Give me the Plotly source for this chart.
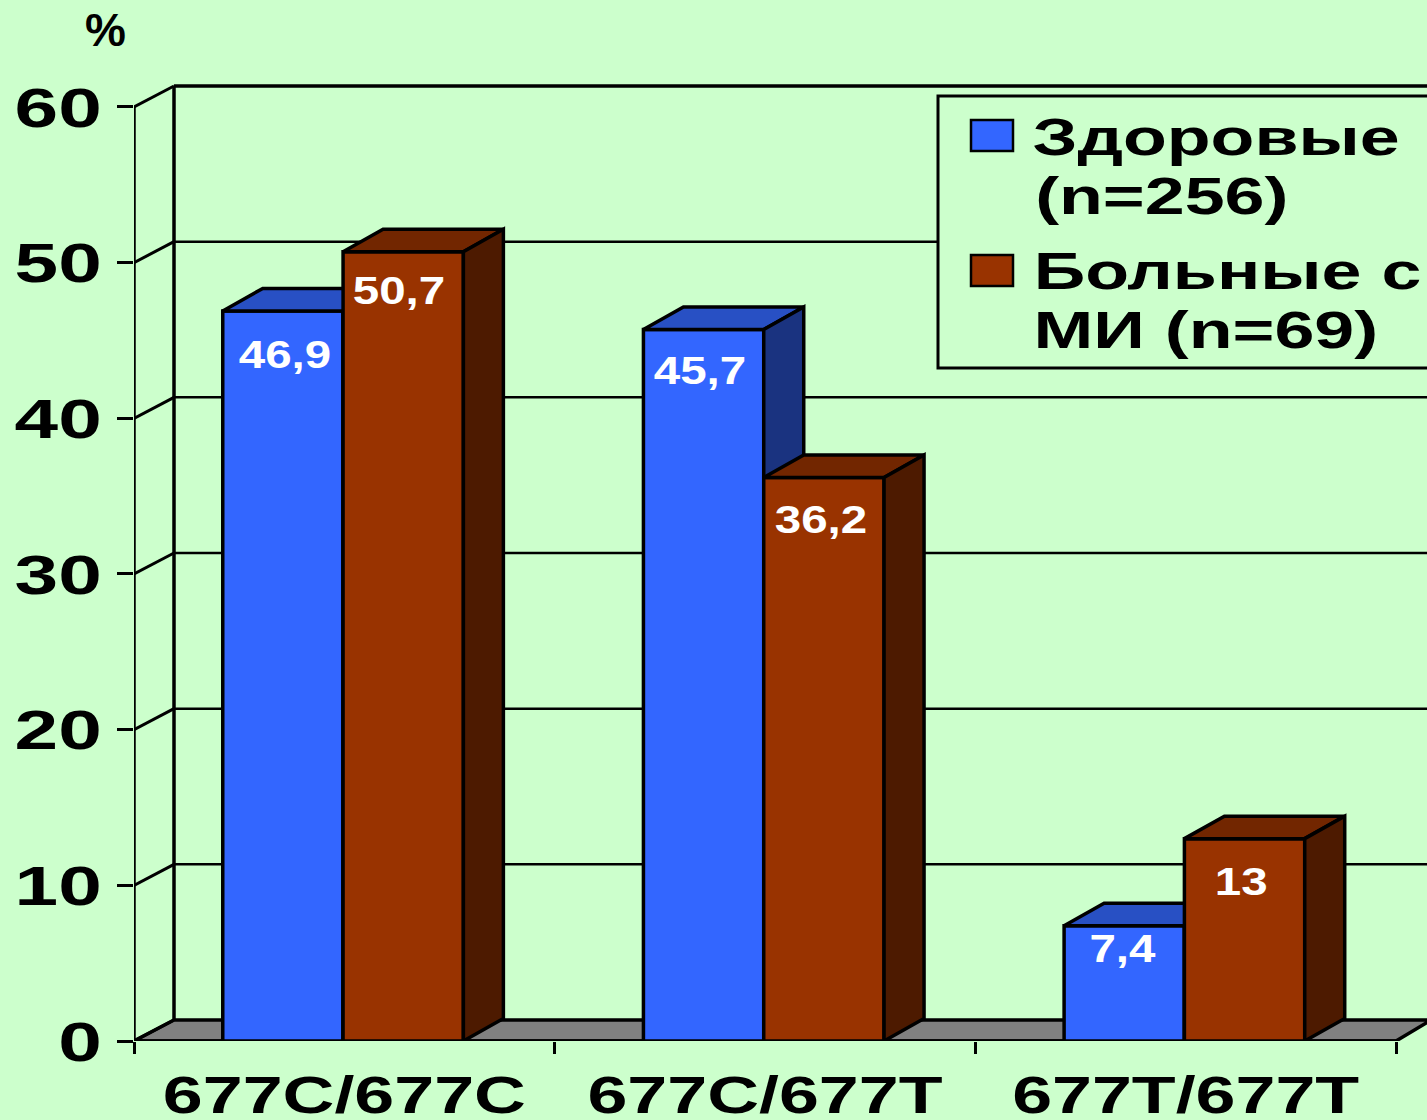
import plotly.graph_objects as go

# Genotype frequencies, percent of each group
genotypes = ["677C/677C", "677C/677T", "677T/677T"]
healthy = [46.9, 45.7, 7.4]
patients = [50.7, 36.2, 13]
y_ticks = [0, 10, 20, 30, 40, 50, 60]
legend_lines = ["Здоровые", "(n=256)", "Больные с", "МИ (n=69)"]

# Value-label nudges in pixels relative to the top centre of each column
healthy_label_shift = [(2, -44), (-4, -41), (-2, -23)]
patients_label_shift = [(-4, -39), (-3, -43), (-4, -43)]

W, H = 1427, 1120
LEFT, BOTTOM = 134, 79
PX_PER_CAT = 420.67
PX_PER_VAL = 15.567
X_RANGE = [-0.5, -0.5 + (W - LEFT) / PX_PER_CAT]
Y_RANGE = [0, (H - BOTTOM) / PX_PER_VAL]

# Oblique projection: how far the depth axis shifts things, in data units
WALL_DX, WALL_DY = 40 / PX_PER_CAT, 21 / PX_PER_VAL
BAR_DX, BAR_DY = 40 / PX_PER_CAT, 22.5 / PX_PER_VAL
BAR_W = 0.286
GROUP_SHIFT = -0.003

BG = "#CCFFCC"
BLUE, BLUE_TOP, BLUE_SIDE = "#3366FF", "#2850C4", "#1A3380"
RED, RED_TOP, RED_SIDE = "#993300", "#722600", "#4D1A00"
FONT = "Liberation Sans"


def polygons(faces):
    xs, ys = [], []
    for face in faces:
        xs += [p[0] for p in face] + [face[0][0], None]
        ys += [p[1] for p in face] + [face[0][1], None]
    return xs, ys


def add_poly(fig, faces, color, axes, lw=3.5):
    xs, ys = polygons(faces)
    fig.add_trace(go.Scatter(x=xs, y=ys, mode="lines", fill="toself", fillcolor=color,
                             line=dict(color="black", width=lw), hoverinfo="skip",
                             showlegend=False, cliponaxis=False, xaxis=axes[0], yaxis=axes[1]))


def add_lines(fig, segments, lw, axes=("x", "y")):
    xs, ys = [], []
    for a, b in segments:
        xs += [a[0], b[0], None]
        ys += [a[1], b[1], None]
    fig.add_trace(go.Scatter(x=xs, y=ys, mode="lines", line=dict(color="black", width=lw),
                             hoverinfo="skip", showlegend=False, cliponaxis=False,
                             xaxis=axes[0], yaxis=axes[1]))


def add_series(fig, values, left_offset, name, front, top, side, axes):
    fig.add_trace(go.Bar(x=list(range(len(values))), y=values, width=BAR_W, offset=left_offset,
                         name=name, marker=dict(color=front, line=dict(color="black", width=3.5)),
                         hoverinfo="skip", showlegend=False, xaxis=axes[0], yaxis=axes[1]))
    tops, sides = [], []
    for i, v in enumerate(values):
        x0, x1 = i + left_offset, i + left_offset + BAR_W
        tops.append([(x0, v), (x1, v), (x1 + BAR_DX, v + BAR_DY), (x0 + BAR_DX, v + BAR_DY)])
        sides.append([(x1, 0), (x1, v), (x1 + BAR_DX, v + BAR_DY), (x1 + BAR_DX, BAR_DY)])
    add_poly(fig, tops, top, axes)
    add_poly(fig, sides, side, axes)


fig = go.Figure()
x_min, x_max = X_RANGE[0], len(genotypes) - 0.5
wall_left = x_min + WALL_DX

# Floor of the box
add_poly(fig, [[(x_min, 0), (wall_left, WALL_DY), (X_RANGE[1] + 0.01, WALL_DY),
                (x_max, 0)]], "#808080", ("x", "y"))

# Back-wall grid, the diagonals on the side wall, and the front axes
top_val = y_ticks[-1]
add_lines(fig, [((wall_left, t + WALL_DY), (X_RANGE[1], t + WALL_DY)) for t in y_ticks[1:-1]], 2.5)
add_lines(fig, [((wall_left, top_val + WALL_DY), (X_RANGE[1], top_val + WALL_DY)),
                ((wall_left, WALL_DY), (wall_left, top_val + WALL_DY)),
                ((x_min, 0), (x_min, top_val)),
                ((x_min, 0), (x_max, 0))], 3.5)
add_lines(fig, [((x_min, t), (wall_left, t + WALL_DY)) for t in y_ticks], 3)

# Healthy group sits on the second axis pair, patients on the third, so that each
# patient column paints over the side face of its neighbour
add_series(fig, healthy, GROUP_SHIFT - BAR_W, "Здоровые (n=256)", BLUE, BLUE_TOP, BLUE_SIDE, ("x2", "y2"))
add_series(fig, patients, GROUP_SHIFT, "Больные с МИ (n=69)", RED, RED_TOP, RED_SIDE, ("x3", "y3"))


def px_x(px):
    return (px - LEFT) / (W - LEFT)


def px_y(px):
    return 1 - px / (H - BOTTOM)


annotations = []
for values, shifts, off in ((healthy, healthy_label_shift, GROUP_SHIFT - BAR_W / 2),
                            (patients, patients_label_shift, GROUP_SHIFT + BAR_W / 2)):
    for i, (v, (dx, dy)) in enumerate(zip(values, shifts)):
        annotations.append(dict(x=i + off, y=v, xref="x3", yref="y3", xshift=dx, yshift=dy,
                                text=str(v).replace(".", ","), showarrow=False,
                                xanchor="center", yanchor="middle",
                                font=dict(family=FONT, size=38, color="white", weight="bold")))

annotations.append(dict(x=px_x(105), y=px_y(30), xref="paper", yref="paper", text="%", showarrow=False,
                        xanchor="center", yanchor="middle",
                        font=dict(family=FONT, size=46, color="black", weight="bold")))

legend_pos = [(1216, 137), (1162, 196), (1227, 271), (1206, 330)]
for line, (cx, cy) in zip(legend_lines, legend_pos):
    annotations.append(dict(x=px_x(cx), y=px_y(cy), xref="paper", yref="paper", text=line, showarrow=False,
                            xanchor="center", yanchor="middle",
                            font=dict(family=FONT, size=52, color="black", weight="bold")))

shapes = [
    dict(type="rect", xref="paper", yref="paper", x0=px_x(938), x1=px_x(1440), y0=px_y(96), y1=px_y(368),
         fillcolor=BG, line=dict(color="black", width=3), layer="above"),
    dict(type="rect", xref="paper", yref="paper", x0=px_x(971), x1=px_x(1013), y0=px_y(120), y1=px_y(151),
         fillcolor=BLUE, line=dict(color="black", width=2.5), layer="above"),
    dict(type="rect", xref="paper", yref="paper", x0=px_x(971), x1=px_x(1013), y0=px_y(255), y1=px_y(286),
         fillcolor=RED, line=dict(color="black", width=2.5), layer="above"),
]

hidden = dict(range=X_RANGE, showgrid=False, zeroline=False, showticklabels=False, ticks="",
              showline=False, automargin=False)
hidden_y = dict(range=Y_RANGE, showgrid=False, zeroline=False, showticklabels=False, ticks="",
                showline=False, automargin=False)

fig.update_layout(
    width=W, height=H, autosize=False,
    margin=dict(l=LEFT, r=0, t=0, b=BOTTOM, pad=0),
    paper_bgcolor=BG, plot_bgcolor=BG,
    barmode="overlay",
    showlegend=False,
    hovermode=False,
    annotations=annotations,
    shapes=shapes,
    xaxis=dict(range=X_RANGE, showgrid=False, zeroline=False, showline=False, showticklabels=False,
               tickmode="array", tickvals=[-0.5, 0.5, 1.5, 2.5], ticks="outside", ticklen=12,
               tickwidth=3, tickcolor="black", automargin=False),
    yaxis=dict(range=Y_RANGE, showgrid=False, zeroline=False, showline=False,
               tickmode="array", tickvals=y_ticks, ticks="outside", ticklen=16, tickwidth=3,
               tickcolor="black", ticklabelstandoff=4, automargin=False,
               tickfont=dict(family=FONT, size=56, color="black", weight="bold")),
    xaxis2=dict(overlaying="x", anchor="y2", **hidden),
    yaxis2=dict(overlaying="y", anchor="x2", **hidden_y),
    xaxis3=dict(overlaying="x", anchor="y3", range=X_RANGE, showgrid=False, zeroline=False, showline=False,
                tickmode="array", tickvals=list(range(len(genotypes))), ticktext=genotypes,
                ticks="outside", ticklen=9, tickcolor="rgba(0,0,0,0)", automargin=False,
                tickfont=dict(family=FONT, size=52, color="black", weight="bold")),
    yaxis3=dict(overlaying="y", anchor="x3", **hidden_y),
)

# The lettering is set wide: stretch each text horizontally about its own anchor
WIDEN = """
var gd = document.getElementById('{plot_id}');
function widen(el, edge, S) {
  var b = el.getBBox();
  var cx = edge === 'right' ? b.x + b.width : b.x + b.width / 2;
  var t = el.getAttribute('transform') || '';
  el.setAttribute('transform', t + ' translate(' + cx + ',0) scale(' + S + ',1) translate(' + (-cx) + ',0)');
}
gd.querySelectorAll('.ytick text').forEach(function (e) { widen(e, 'right', 1.4); });
gd.querySelectorAll('.x3tick text').forEach(function (e) { widen(e, 'center', 1.38); });
gd.querySelectorAll('.annotation-text').forEach(function (e) {
  if (e.textContent === '%') return;
  var size = parseFloat(e.style.fontSize || getComputedStyle(e).fontSize);
  widen(e, 'center', size > 45 ? 1.38 : 1.25);
});
"""

fig.write_html("out.html", post_script=WIDEN, config=dict(displayModeBar=False))
